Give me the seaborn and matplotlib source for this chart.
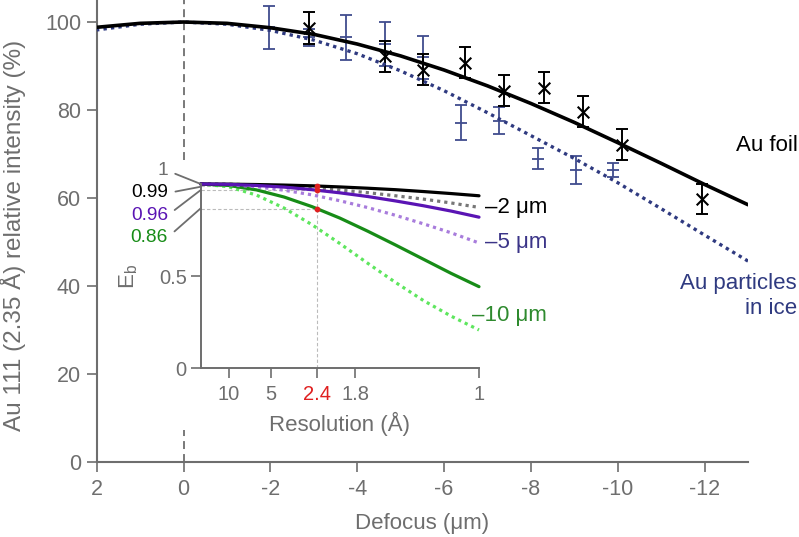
import numpy as np
import pandas as pd
import matplotlib
matplotlib.use("Agg")
import matplotlib.pyplot as plt
import seaborn as sns

# === Main panel: fitted curves ===
defocus_grid = [2, 1, 0, -1, -2, -3, -4, -5, -6, -7, -8, -9, -10, -11, -12, -13]
foil_fit = [98.8, 99.7, 100.0, 99.7, 98.7, 97.2, 95.0, 92.3, 89.1, 85.5, 81.5, 77.2, 72.6, 67.9, 63.1, 58.5]
ice_fit = [98.2, 99.5, 100.0, 99.5, 98.1, 95.9, 92.8, 88.9, 84.4, 79.4, 74.2, 69.0, 63.5, 57.6, 51.6, 45.7]

# === Main panel: measurements ===
foil_defocus = [-2.88, -4.63, -5.51, -6.49, -7.39, -8.30, -9.21, -10.10, -11.93]
foil_intensity = [98.6, 92.2, 89.2, 90.8, 84.4, 85.1, 79.6, 72.1, 59.8]
foil_err = [3.6, 3.5, 3.6, 3.5, 3.5, 3.5, 3.5, 3.5, 3.5]

ice_defocus = [-1.97, -2.88, -3.74, -4.63, -5.51, -6.39, -7.27, -8.16, -9.04, -9.90]
ice_intensity = [98.8, 96.5, 96.5, 95.0, 92.0, 77.1, 77.6, 69.0, 66.4, 66.4]
ice_err = [4.9, 1.9, 5.1, 4.9, 4.9, 4.0, 3.0, 2.3, 3.2, 1.6]

# === Inset: envelope vs spatial frequency (1/A) ===
freq_grid = [0.0, 0.1, 0.2, 0.3, 0.4, 0.5, 0.6, 0.7, 0.8, 0.9, 1.0]
eb_2um_solid = [1.0, 0.999, 0.997, 0.994, 0.990, 0.984, 0.977, 0.969, 0.959, 0.948, 0.936]
eb_2um_dotted = [1.0, 0.999, 0.995, 0.988, 0.979, 0.967, 0.953, 0.936, 0.918, 0.897, 0.873]
eb_5um_solid = [1.0, 0.998, 0.992, 0.983, 0.969, 0.952, 0.932, 0.908, 0.882, 0.853, 0.820]
eb_5um_dotted = [1.0, 0.996, 0.985, 0.966, 0.941, 0.909, 0.872, 0.830, 0.784, 0.735, 0.680]
eb_10um_solid = [1.0, 0.992, 0.968, 0.929, 0.877, 0.815, 0.744, 0.669, 0.592, 0.515, 0.443]
eb_10um_dotted = [1.0, 0.985, 0.940, 0.869, 0.779, 0.677, 0.570, 0.466, 0.368, 0.283, 0.208]

res_tick_pos = [0.1, 0.252, 0.4167, 0.556, 1.0]
res_tick_labels = ['10', '5', '2.4', '1.8', '1']
mark_freq = 0.4167
mark_eb = [0.99, 0.966, 0.864]
mark_labels = ['0.99', '0.96', '0.86']

# === Style ===
sns.set_theme(style="ticks")
plt.rcParams['font.family'] = ['Liberation Sans', 'DejaVu Sans']
plt.rcParams['axes.unicode_minus'] = False
plt.rcParams['mathtext.fontset'] = 'custom'
plt.rcParams['mathtext.rm'] = 'Liberation Sans'
plt.rcParams['mathtext.it'] = 'Liberation Sans'

GRAY = '#6e6e6e'
NAVY = '#2f3a80'
NAVY_BAR = '#404c8e'
PURPLE = '#5a14b4'
LILAC = '#a87cdc'
GREEN = '#178c17'
LIME = '#5ee65e'
RED = '#e02020'
DOTS = (0, (1, 1.25))

fig = plt.figure(figsize=(7.99, 5.37), dpi=100)
ax = fig.add_axes([0.1210, 0.1391, 0.8152, 0.8609])

# reference line at zero defocus (interrupted by the inset)
ax.vlines(0, 68.6, 105, colors='#555555', lw=1.1, linestyles=(0, (5.2, 3.3)), zorder=1)
ax.vlines(0, 0, 7.3, colors='#555555', lw=1.1, linestyles=(0, (5.2, 3.3)), zorder=1)

# error bars
ax.errorbar(ice_defocus, ice_intensity, yerr=ice_err, fmt='_', color=NAVY_BAR,
            ms=9, mew=1.3, elinewidth=1.3, capsize=4.6, capthick=1.3, zorder=2)
ax.errorbar(foil_defocus, foil_intensity, yerr=foil_err, fmt='none', ecolor='black',
            elinewidth=1.4, capsize=4.6, capthick=1.4, zorder=3)

# fitted curves
sns.lineplot(x=defocus_grid, y=ice_fit, color=NAVY, lw=2.4, linestyle=DOTS, ax=ax, zorder=4)
sns.lineplot(x=defocus_grid, y=foil_fit, color='black', lw=2.6, ax=ax, zorder=4)

# foil markers
sns.scatterplot(x=foil_defocus, y=foil_intensity, marker='x', s=70, color='black',
                linewidth=1.5, ax=ax, zorder=5)

ax.set_xlim(2, -13)
ax.set_ylim(0, 105)
ax.set_xticks([2, 0, -2, -4, -6, -8, -10, -12])
ax.set_yticks([0, 20, 40, 60, 80, 100])
sns.despine(ax=ax)
for s in ['left', 'bottom']:
    ax.spines[s].set_color(GRAY)
    ax.spines[s].set_linewidth(1.5)
ax.tick_params(axis='both', colors=GRAY, labelcolor=GRAY, labelsize=15.5,
               length=7.2, width=1.2, direction='out')
ax.tick_params(axis='x', pad=5)
ax.tick_params(axis='y', pad=4)
ax.set_xlabel('Defocus (μm)', fontsize=16, color=GRAY, labelpad=9)
ax.set_ylabel('Au 111 (2.35 Å) relative intensity (%)', fontsize=17.5, color=GRAY)
ax.yaxis.set_label_coords(-0.108, 0.49)

ax.text(-12.73, 72.0, 'Au foil', fontsize=16, color='black', ha='left', va='center')
ax.text(-14.12, 37.7, 'Au particles\nin ice', fontsize=16, color=NAVY, ha='right',
        va='center', multialignment='right', linespacing=1.25)

# === Inset ===
axi = fig.add_axes([0.2512, 0.3141, 0.3483, 0.3433])
axi.set_facecolor('white')

# guide lines at 2.4 A
axi.vlines(mark_freq, 0, max(mark_eb), colors='#bbbbbb', lw=0.8, linestyles=(0, (3, 2)), zorder=1)
axi.hlines(mark_eb, 0, mark_freq, colors='#bbbbbb', lw=0.8, linestyles=(0, (3, 2)), zorder=1)

sns.lineplot(x=freq_grid, y=eb_10um_dotted, color=LIME, lw=2.3, linestyle=DOTS, ax=axi)
sns.lineplot(x=freq_grid, y=eb_10um_solid, color=GREEN, lw=2.3, ax=axi)
sns.lineplot(x=freq_grid, y=eb_5um_dotted, color=LILAC, lw=2.3, linestyle=DOTS, ax=axi)
sns.lineplot(x=freq_grid, y=eb_2um_dotted, color='#777777', lw=2.3, linestyle=DOTS, ax=axi)
sns.lineplot(x=freq_grid, y=eb_2um_solid, color='black', lw=2.3, ax=axi)
sns.lineplot(x=freq_grid, y=eb_5um_solid, color=PURPLE, lw=2.3, ax=axi)
for ln in axi.lines:
    ln.set_clip_on(False)

axi.scatter([mark_freq] * len(mark_eb), mark_eb, s=10, color=RED, zorder=6, clip_on=False)

axi.set_xlim(0, 1)
axi.set_ylim(0, 1)
axi.set_xticks(res_tick_pos)
axi.set_xticklabels(res_tick_labels)
axi.set_yticks([0, 0.5])
axi.set_yticklabels(['0', '0.5'])
sns.despine(ax=axi)
for s in ['left', 'bottom']:
    axi.spines[s].set_color(GRAY)
    axi.spines[s].set_linewidth(1.4)
axi.tick_params(axis='both', colors=GRAY, labelcolor=GRAY, labelsize=14.5,
                length=7, width=1.2, direction='out')
axi.tick_params(axis='x', pad=5)
axi.tick_params(axis='y', pad=3)
axi.get_xticklabels()[2].set_color(RED)
axi.set_xlabel('Resolution (Å)', fontsize=16, color=GRAY, labelpad=6)
axi.set_ylabel('E$_\\mathrm{b}$', fontsize=16, color=GRAY, labelpad=14)

# fanned labels for the envelope values at 2.4 A
fan = [('1', GRAY, 1.0, 9.4), (mark_labels[0], 'black', 0.985, -4.5),
       (mark_labels[1], PURPLE, 0.967, -18.0), (mark_labels[2], GREEN, 0.868, -20.7)]
for txt, col, y_to, dy in fan:
    axi.annotate(txt, xy=(0, y_to), xytext=(-23.5, dy), textcoords='offset points',
                 ha='right', va='center', fontsize=13.8, color=col, annotation_clip=False,
                 arrowprops=dict(arrowstyle='-', color=GRAY, lw=1.3, shrinkA=3, shrinkB=0,
                                 relpos=(1, 0.5)))

axi.text(1.02, 0.870, '–2 μm', fontsize=16, color='black', ha='left', va='center')
axi.text(1.02, 0.680, '–5 μm', fontsize=16, color='#3b3488', ha='left', va='center')
axi.text(0.975, 0.289, '–10 μm', fontsize=16, color='#2e8a2e', ha='left', va='center')

fig.savefig('out.png', dpi=100)
